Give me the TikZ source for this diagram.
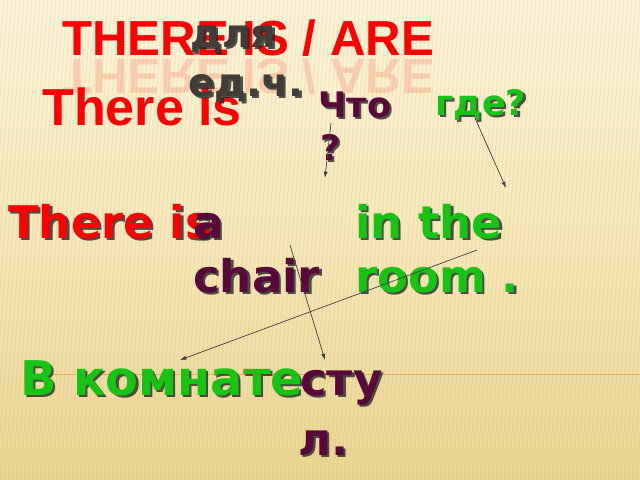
\documentclass[tikz,border=0pt]{standalone}
\usepackage{fontspec}
\usetikzlibrary{positioning,arrows.meta,calc}
\setmainfont{DejaVu Sans}
\newfontfamily\slidefont{Liberation Sans}
\definecolor{wordred}{RGB}{255,0,0}
\definecolor{wordgreen}{RGB}{22,196,22}
\definecolor{wordplum}{RGB}{88,8,58}
\definecolor{wordgrey}{RGB}{66,60,56}
\definecolor{rulecol}{RGB}{238,172,86}
\definecolor{bgtop}{RGB}{253,245,218}
\definecolor{bgmid}{RGB}{247,232,186}
\definecolor{bgbot}{RGB}{234,212,146}
\definecolor{stripecol}{RGB}{200,170,90}
% word with a dark drop shadow: name, colour, position, size, text
\newcommand{\shword}[5]{%
  \node (#1s) [word, text=black!85, opacity=0.8] at ($(#3)+(2.2,2.2)$) {\fontsize{#4}{#4}\selectfont #5};
  \node (#1) [word, text=#2] at (#3) {\fontsize{#4}{#4}\selectfont #5};}

\begin{document}
\begin{tikzpicture}[x=0.025cm, y=-0.025cm,
            arrowstyle/.style={-{Latex[length=4.5pt, width=3pt]}, line width=0.5pt, draw=black!75}]
            % A word style
            \tikzstyle{word} = [anchor=base west, inner sep=0pt, font=\bfseries]
            \tikzstyle{stripe} = [draw=stripecol, line width=0.8pt, opacity=0.15]
            \useasboundingbox (0,0) rectangle (640,480);

            % The slide background
            \shade[top color=bgtop, bottom color=bgbot, middle color=bgmid] (0,0) rectangle (640,480);
            \begin{scope}
              \clip (0,0) rectangle (640,480);
              \foreach \sx in {0,4,...,680} \draw[stripe] (\sx-40,480) -- (\sx,0);
            \end{scope}
            \draw[rulecol, line width=0.6pt] (26,374) -- (640,374);

            % Title and its mirror image
            \node (title) [word, text=wordred, font=\slidefont\bfseries\fontsize{35}{35}\selectfont] at (62,55) {THERE IS / ARE};
            \node (titlem) [word, text=wordred, opacity=0.14, yscale=-1, font=\slidefont\bfseries\fontsize{35}{35}\selectfont] at (62,60) {THERE IS / ARE};
            \node (thereIs) [word, text=wordred, font=\slidefont\bfseries\fontsize{37}{37}\selectfont] at (42,125) {There is};

            % Notes at the top
            \shword{dlya}{wordgrey}{190,47}{28}{для}
            \shword{edch}{wordgrey}{188,96}{28}{ед.ч.}
            \shword{chto}{wordplum}{318,117}{25}{Что}
            \shword{chtoq}{wordplum}{320,160}{25}{?}
            \shword{gde}{wordgreen}{435,115}{25}{где?}

            % The sentence
            \shword{thereIa}{wordred}{8,238}{32}{There is}
            \shword{art}{wordplum}{193,238}{32}{a}
            \shword{chair}{wordplum}{193,292}{32}{chair}
            \shword{inThe}{wordgreen}{355,238}{32}{in the}
            \shword{room}{wordgreen}{355,292}{32}{room .}

            % The translation
            \shword{vKomnate}{wordgreen}{20,395}{34}{В комнате}
            \shword{stu}{wordplum}{300,395}{32}{сту}
            \shword{stul}{wordplum}{298,455}{32}{л.}

            % Arrow ends
            \coordinate (chtoTail) at (331,123);
            \coordinate (chtoHead) at (325,178);
            \coordinate (gdeTail) at (475,118);
            \coordinate (gdeHead) at (506,188);
            \coordinate (chairTail) at (290,245);
            \coordinate (chairHead) at (325,360);
            \coordinate (roomTail) at (477,250);
            \coordinate (roomHead) at (180,360);

            % Draw the arrows
            \draw [arrowstyle] (chtoTail) -- (chtoHead);
            \draw [arrowstyle] (gdeTail) -- (gdeHead);
            \draw [arrowstyle] (chairTail) -- (chairHead);
            \draw [arrowstyle] (roomTail) -- (roomHead);
        \end{tikzpicture}
\end{document}
